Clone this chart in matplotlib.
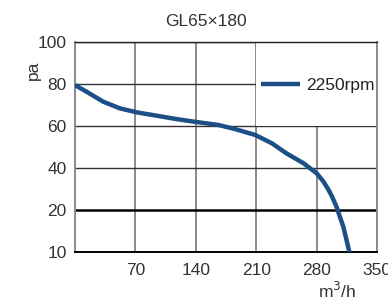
import matplotlib
matplotlib.use("Agg")
import matplotlib.pyplot as plt
from matplotlib.patches import Rectangle

plt.rcParams['font.family'] = ['Liberation Sans', 'DejaVu Sans']

# curve
flow = [0, 13.5, 32.6, 52, 71.6, 94.7, 116, 139, 166, 185, 209, 228, 245,
        265, 280, 288, 294, 298, 303, 311, 318]
press = [79.5, 76.3, 71.6, 68.4, 66.5, 64.9, 63.4, 62, 60.5, 58.6, 55.7, 51.8, 47,
         42.2, 37.5, 33.5, 29.5, 26.3, 21.6, 12, 0]
series_name = "2250rpm"
x_ticks = [70, 140, 210, 280, 350]
y_ticks = [0, 20, 40, 60, 80, 100]
y_labels = ['10', '20', '40', '60', '80', '100']

fig = plt.figure(figsize=(3.88, 3.0), dpi=100)
ax = fig.add_axes([75/388, 48/300, 302/388, 210/300])

ax.set_xlim(0, 350)
ax.set_ylim(0, 100)

for xv in x_ticks:
    ax.axvline(xv, color='#8a8a8a', lw=1.4, zorder=1)
for yv in y_ticks[1:]:
    if yv == 20:
        ax.axhline(yv, color='black', lw=1.8, zorder=1)
    else:
        ax.axhline(yv, color='#333333', lw=1.0, zorder=1)

# white legend background covering the grid
ax.add_patch(Rectangle((0.6, 0.6), 0.399, 0.395, transform=ax.transAxes,
                       facecolor='white', edgecolor='none', zorder=2))

ax.plot(flow, press, color='#1b4f86', lw=3.2, solid_capstyle='butt',
        solid_joinstyle='round', zorder=3, label=series_name)

leg = ax.legend(loc='center left', bbox_to_anchor=(0.6, 0.795), frameon=False,
                fontsize=12.5, handlelength=2.2, handletextpad=0.4,
                borderaxespad=0, borderpad=0.3)
for t in leg.get_texts():
    t.set_color('#222222')

ax.set_xticks(x_ticks)
ax.set_yticks(y_ticks)
ax.set_yticklabels(y_labels)
ax.tick_params(axis='both', length=0, labelsize=12.5, labelcolor='#333333')
ax.tick_params(axis='x', pad=8)
ax.tick_params(axis='y', pad=6)

ax.spines['left'].set_color('#8a8a8a')
ax.spines['right'].set_color('#8a8a8a')
ax.spines['left'].set_linewidth(1.4)
ax.spines['right'].set_linewidth(1.4)
ax.spines['bottom'].set_color('black')
ax.spines['bottom'].set_linewidth(1.4)
ax.spines['top'].set_color('#222222')
ax.spines['top'].set_linewidth(1.0)

fig.text(206/388, 1 - 22/300, 'GL65×180', ha='center', va='center',
         fontsize=12.5, color='#333333')
fig.text(33/388, 1 - 70/300, 'pa', ha='center', va='center', rotation=90,
         fontsize=12.5, color='#333333')
fig.text(337/388, 1 - 291/300, 'm$^3$/h', ha='center', va='center',
         fontsize=12.5, color='#333333')

fig.savefig('out.png', dpi=100)
